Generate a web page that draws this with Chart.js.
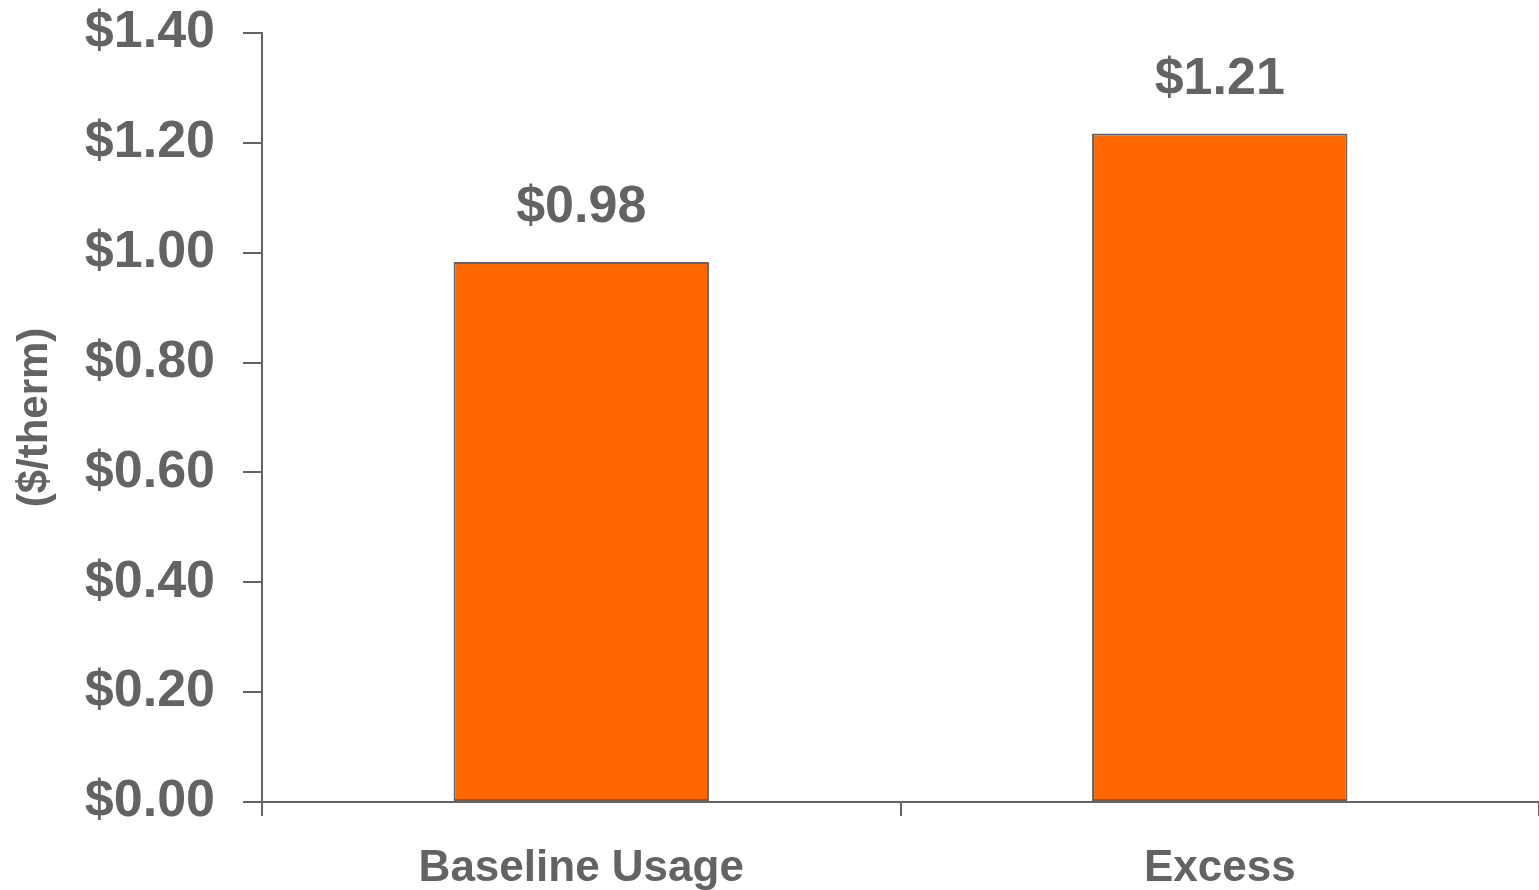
<!DOCTYPE html>
<html>
<head>
<meta charset="utf-8">
<script src="https://cdn.jsdelivr.net/npm/chart.js@4/dist/chart.umd.min.js"></script>
<style>
  html, body { margin: 0; padding: 0; background: #fff; }
  #wrap { width: 1539px; height: 890px; }
</style>
</head>
<body>
<div id="wrap"><canvas id="barChart"></canvas></div>
<script>
var categorias = ['Baseline Usage', 'Excess'];
var precios = [0.983, 1.217];
var etiquetas = ['$0.98', '$1.21'];
var yTicks = [0, 0.2, 0.4, 0.6, 0.8, 1.0, 1.2, 1.4];

var gris = '#636363';

// etiquetas encima de cada barra
var etiquetasBarras = {
    id: 'etiquetasBarras',
    afterDatasetsDraw: function (chart) {
        var ctx = chart.ctx;
        var meta = chart.getDatasetMeta(0);
        ctx.save();
        ctx.fillStyle = gris;
        ctx.font = 'bold 52px "Liberation Sans", Arial, sans-serif';
        ctx.textAlign = 'center';
        ctx.textBaseline = 'middle';
        meta.data.forEach(function (bar, i) {
            ctx.fillText(etiquetas[i], bar.x, bar.y - 54);
        });
        ctx.restore();
    }
};

var ctx = document.getElementById('barChart').getContext('2d');
var barChart = new Chart(ctx, {
    type: 'bar',
    data: {
        labels: categorias,
        datasets: [{
            data: precios,
            backgroundColor: '#FF6600',
            borderColor: gris,
            borderWidth: 2,
            borderSkipped: false,
            barPercentage: 0.4,
            categoryPercentage: 1.0
        }]
    },
    options: {
        responsive: true,
        maintainAspectRatio: false,
        animation: false,
        layout: { padding: { top: 33, right: 0, left: 0, bottom: 0 } },
        plugins: {
            legend: { display: false },
            tooltip: { enabled: false }
        },
        scales: {
            x: {
                grid: {
                    drawOnChartArea: false,
                    drawTicks: true,
                    tickLength: 14,
                    color: gris,
                    lineWidth: 2
                },
                border: { color: gris, width: 2 },
                ticks: {
                    color: gris,
                    padding: 26,
                    font: { family: '"Liberation Sans", Arial, sans-serif', size: 44, weight: 'bold' }
                },
                afterFit: function (scale) { scale.height = 88; }
            },
            y: {
                min: 0,
                max: 1.4,
                afterBuildTicks: function (scale) {
                    scale.ticks = yTicks.map(function (v) { return { value: v }; });
                },
                grid: {
                    drawOnChartArea: false,
                    drawTicks: true,
                    tickLength: 19,
                    color: gris,
                    lineWidth: 2
                },
                border: { color: gris, width: 2 },
                ticks: {
                    color: gris,
                    padding: 28,
                    font: { family: '"Liberation Sans", Arial, sans-serif', size: 52, weight: 'bold' },
                    callback: function (v) { return '$' + Number(v).toFixed(2); }
                },
                title: {
                    display: true,
                    text: '($/therm)',
                    color: gris,
                    padding: { top: 10, bottom: 0 },
                    font: { family: '"Liberation Sans", Arial, sans-serif', size: 42, weight: 'bold' }
                },
                afterFit: function (scale) {
                    scale.width = 262;
                    scale.paddingTop = 0;
                    scale.paddingBottom = 0;
                }
            }
        }
    },
    plugins: [etiquetasBarras]
});
</script>
</body>
</html>
